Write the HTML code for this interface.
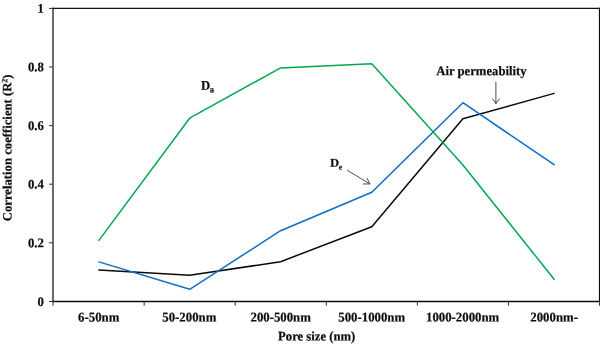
<!DOCTYPE html>
<html>
<head>
<meta charset="utf-8">
<title>Correlation coefficient vs pore size</title>
<style>
html,body{margin:0;padding:0;background:#fff;}
body{width:600px;height:345px;overflow:hidden;font-family:"Liberation Serif",serif;}
svg{display:block;}
text{font-family:"Liberation Serif",serif;font-weight:bold;font-size:12.7px;fill:#0d0d0d;stroke:#0d0d0d;stroke-width:0.2px;}
</style>
</head>
<body>
<svg width="600" height="345" viewBox="0 0 600 345">
<rect x="0" y="0" width="600" height="345" fill="#ffffff"/>
<!-- plot frame -->
<g fill="none" stroke-linecap="butt">
<line x1="53" y1="7.75" x2="53" y2="302.2" stroke="#2b2b2b" stroke-width="1.4"/>
<line x1="52.3" y1="8.4" x2="600" y2="8.4" stroke="#121212" stroke-width="1.3"/>
<line x1="599.5" y1="7.75" x2="599.5" y2="302.2" stroke="#0d0d0d" stroke-width="1.2"/>
<line x1="52.3" y1="301.45" x2="600" y2="301.45" stroke="#0d0d0d" stroke-width="1.5"/>
</g>
<!-- tick marks -->
<g fill="none" stroke="#333" stroke-width="1">
<path d="M49 8.4H53M49 67H53M49 125.6H53M49 184.2H53M49 242.8H53M49 301.45H53"/>
<path d="M53 301.4V305.7M144.2 301.4V305.7M235.2 301.4V305.7M326.3 301.4V305.7M417.4 301.4V305.7M508.4 301.4V305.7M599.5 301.4V305.7"/>
</g>
<!-- data series -->
<g fill="none" stroke-width="1.5" stroke-linejoin="round" stroke-linecap="round">
<polyline stroke="#0a0a0a" points="98.9,269.9 189.7,275.3 280.6,261.7 371.8,226.7 462.9,118.8 554.1,93.4"/>
<polyline stroke="#0f6dc4" points="98.9,261.9 189.7,289.3 280.6,230.7 371.8,192.2 462.9,102.7 554.1,164.7"/>
<polyline stroke="#00a84f" points="98.9,240.4 190,117.8 280.6,67.9 371.8,63.8 462.9,165 554.1,279.2"/>
</g>
<!-- annotation arrows -->
<g fill="none" stroke="#3a3a3a" stroke-width="0.9" stroke-linecap="round" stroke-linejoin="round">
<path d="M495.9 82V103.5M492.6 98.9L495.9 103.5L499.4 98.9"/>
<path d="M347.4 170.4L369.9 183.9M363.3 184L369.9 183.9L367 178.3"/>
</g>

<g style="filter:grayscale(1)">
<!-- y tick labels -->
<text transform="translate(43.8,12.8) rotate(0.03) scale(1,1.04)" text-anchor="end">1</text>
<text transform="translate(43.8,71.3) rotate(0.03) scale(1,1.04)" text-anchor="end">0.8</text>
<text transform="translate(43.8,129.9) rotate(0.03) scale(1,1.04)" text-anchor="end">0.6</text>
<text transform="translate(43.8,188.6) rotate(0.03) scale(1,1.04)" text-anchor="end">0.4</text>
<text transform="translate(43.8,247.2) rotate(0.03) scale(1,1.04)" text-anchor="end">0.2</text>
<text transform="translate(43.8,306) rotate(0.03) scale(1,1.04)" text-anchor="end">0</text>
<!-- x category labels -->
<text transform="translate(98.7,321.6) rotate(0.03) scale(1,1.04)" text-anchor="middle" style="font-size:12.8px">6-50nm</text>
<text transform="translate(189.3,321.6) rotate(0.03) scale(1,1.04)" text-anchor="middle" style="font-size:12.8px">50-200nm</text>
<text transform="translate(280.7,321.6) rotate(0.03) scale(1,1.04)" text-anchor="middle" style="font-size:12.8px">200-500nm</text>
<text transform="translate(371.7,321.6) rotate(0.03) scale(1,1.04)" text-anchor="middle" style="font-size:12.8px">500-1000nm</text>
<text transform="translate(462.6,321.6) rotate(0.03) scale(1,1.04)" text-anchor="middle" style="font-size:12.8px">1000-2000nm</text>
<text transform="translate(554.1,321.6) rotate(0.03) scale(1,1.04)" text-anchor="middle" style="font-size:12.8px">2000nm-</text>
<text transform="translate(316.7,340.6) rotate(0.03) scale(1,1.04)" text-anchor="middle">Pore size (nm)</text>
<text transform="translate(11.4,147.8) rotate(-90.03)" text-anchor="middle" style="font-size:12.7px">Correlation coefficient (R<tspan font-size="8px" dy="-4">2</tspan><tspan dy="4">)</tspan></text>
<text transform="translate(436.3,75.2) rotate(0.03) scale(1,1.04)" text-anchor="start">Air permeability</text>
<text transform="translate(201,89.8) rotate(0.03) scale(1,1.04)" text-anchor="start">D<tspan font-size="8.6px" dx="-0.3" dy="2.7">a</tspan></text>
<text transform="translate(330,167.3) rotate(0.03) scale(1,1.04)" text-anchor="start">D<tspan font-size="7.9px" dx="-0.4" dy="2.5">e</tspan></text>
</g>
</svg>
</body>
</html>
